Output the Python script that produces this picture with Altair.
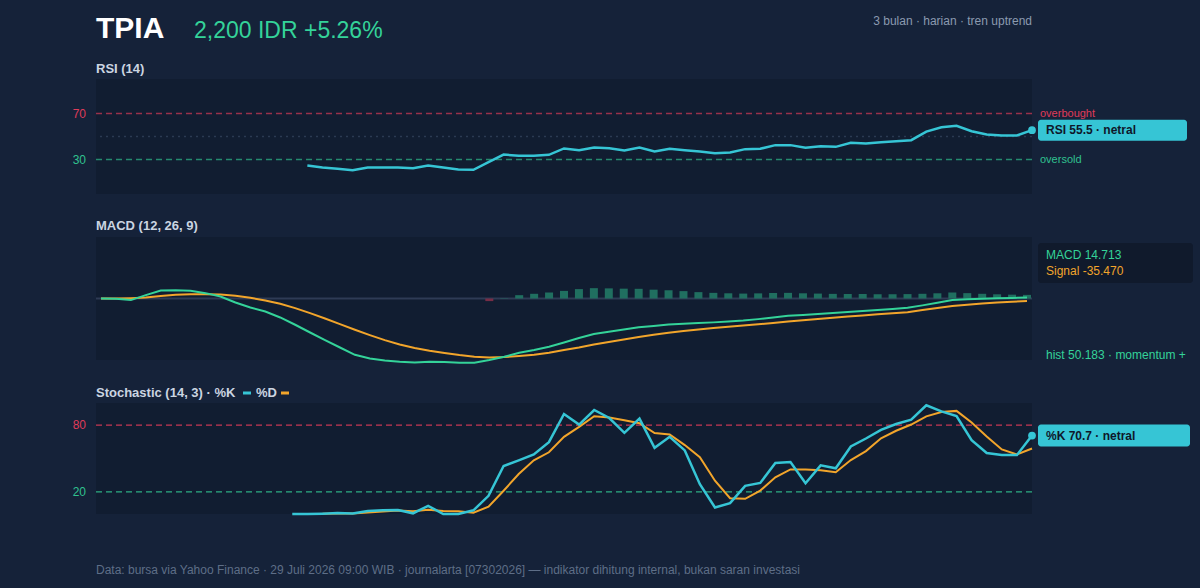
import altair as alt
import pandas as pd

# ---------------- data ----------------
N = 63
idx = list(range(N))

rsi = [None] * 14 + [
    24.8, 23.0, 21.9, 20.7, 23.0, 23.0, 23.0, 22.4, 24.8, 23.0, 21.3, 21.0,
    27.7, 34.3, 33.2, 33.2, 34.1, 39.6, 38.1, 40.4, 39.8, 37.8, 40.4, 37.0,
    39.3, 38.1, 37.0, 35.5, 36.1, 39.0, 39.3, 42.5, 42.5, 40.2, 41.6, 41.0,
    44.5, 43.9, 45.0, 45.9, 46.8, 54.3, 58.1, 59.3, 54.6, 51.7, 50.9, 50.9, 55.5]

macd = [0, -5, -22, 47, 111, 115, 106, 74, 28, -55,
        -124, -180, -262, -363, -470, -575, -677, -778, -829, -856,
        -874, -884, -874, -879, -888, -888, -851, -805, -750, -713,
        -667, -608, -547, -492, -460, -430, -398, -380, -360, -348,
        -340, -330, -318, -305, -285, -262, -240, -228, -214, -202,
        -188, -172, -160, -145, -128, -95, -60, -22, -12, -5,
        2, 8, 14.713]

signal = [0, 0, 5, 14, 33, 51, 60, 60, 55, 37,
          10, -27, -73, -133, -202, -276, -354, -432, -506, -575,
          -635, -685, -722, -754, -782, -805, -815, -810, -796, -778,
          -750, -713, -677, -635, -600, -566, -532, -502, -474, -450,
          -428, -408, -390, -373, -356, -338, -318, -300, -282, -266,
          -250, -234, -219, -204, -189, -160, -132, -105, -86, -70,
          -56, -45, -35.47]

hist = [None] * 26 + [
    -36, 5, 46, 65, 83, 105, 130, 143, 140, 136, 134, 122, 114, 102, 88, 78,
    72, 68, 71, 76, 78, 72, 68, 64, 62, 62, 59, 59, 61, 65, 72, 83, 74, 65,
    58, 53, 50.183]

pct_k = [None] * 13 + [
    0, 0, 0.3, 0.8, 0.5, 2.7, 3.3, 3.6, 0.6, 7.4, 0, 0, 3.3, 16.4, 43.2, 48.3,
    53.7, 64.7, 90.1, 80.6, 93.7, 86.5, 73.1, 85.9, 59.6, 69.5, 57.3, 26.9,
    5.9, 9.8, 25.4, 28, 45.9, 46.8, 27.7, 43.8, 41.2, 60.8, 68, 75.8, 81.1,
    85, 97.9, 92.5, 88.3, 66.5, 54.9, 53.1, 53.1, 70.7]

pct_d = [None] * 15 + [
    0.3, 0.4, 0.5, 1.3, 2.2, 3.2, 2.5, 3.9, 2.7, 2.5, 1.1, 6.6, 21.0, 36.0,
    48.4, 55.6, 69.5, 78.5, 88.1, 86.9, 84.4, 81.8, 72.9, 71.7, 62.1, 51.2,
    30.0, 14.2, 13.7, 21.1, 33.1, 40.2, 40.1, 39.4, 37.6, 48.6, 56.7, 68.2,
    75.0, 80.6, 88.0, 91.8, 92.9, 82.4, 69.9, 58.2, 53.7, 59.0]

rsi_levels = [70, 30]
stoch_levels = [80, 20]

df = pd.DataFrame({"i": idx, "rsi": rsi, "macd": macd, "signal": signal,
                   "hist": hist, "k": pct_k, "d": pct_d})
last = df.iloc[[-1]].copy()
one = pd.DataFrame({"z": [0]})

# ---------------- style ----------------
BG = "#152239"
PANEL = "#111d31"
CYAN = "#36c5d5"
GREEN = "#34d399"
ORANGE = "#f2a52b"
RED = "#f43f5e"
TITLE = "#cbd5e1"
MUTED = "#8b9ab0"
FOOT = "#5e6e87"
FONT = "Liberation Sans"

W = 936
H1, H2, H3 = 115, 123, 111
TOP = 79

xs = alt.Scale(domain=[0, N - 1], nice=False, zero=False)
ys100 = alt.Scale(domain=[0, 100], nice=False)
ysm = alt.Scale(domain=[-850, 850], nice=False)
X = alt.X("i:Q", scale=xs, axis=None)


def txt(s, x, y, color, size=12, weight="normal", align="left", baseline="middle"):
    return alt.Chart(one).mark_text(
        text=s, color=color, fontSize=size, fontWeight=weight, align=align,
        baseline=baseline, font=FONT
    ).encode(x=alt.value(x), y=alt.value(y))


def hrule(x1, x2, y, color, width=3):
    return alt.Chart(one).mark_rule(color=color, strokeWidth=width).encode(
        x=alt.value(x1), x2=alt.value(x2), y=alt.value(y))


def fmt(field, digits):
    return "replace(format(datum.%s, '.%df'), '\u2212', '-')" % (field, digits)


# ---------------- RSI panel ----------------
bounds = alt.Chart(one).mark_rect(opacity=0, fillOpacity=0, strokeOpacity=0).encode(
    x=alt.value(-96), x2=alt.value(1104), y=alt.value(-TOP), y2=alt.value(588 - TOP))

lv_rsi = pd.DataFrame({"v": rsi_levels, "lab": [str(v) for v in rsi_levels],
                       "c": [RED, GREEN], "side": ["overbought", "oversold"]})
mid = pd.DataFrame({"v": [50]})

rsi_dash = alt.Chart(lv_rsi).mark_rule(strokeDash=[6, 4], strokeWidth=1.3, opacity=0.6).encode(
    y=alt.Y("v:Q", scale=ys100, axis=None), color=alt.Color("c:N", scale=None))
rsi_mid = alt.Chart(mid).mark_rule(strokeDash=[2, 4], strokeWidth=1.5, color="#2b3a52").encode(
    y=alt.Y("v:Q", scale=ys100, axis=None))
rsi_ticks = alt.Chart(lv_rsi).mark_text(align="right", baseline="middle", fontSize=12, font=FONT, opacity=0.9).encode(
    y=alt.Y("v:Q", scale=ys100, axis=None), x=alt.value(-10), text="lab:N",
    color=alt.Color("c:N", scale=None))
rsi_side = alt.Chart(lv_rsi).mark_text(align="left", baseline="middle", fontSize=11, font=FONT, opacity=0.9).encode(
    y=alt.Y("v:Q", scale=ys100, axis=None), x=alt.value(944), text="side:N",
    color=alt.Color("c:N", scale=None))
rsi_line = alt.Chart(df).mark_line(color=CYAN, strokeWidth=2.5).encode(
    x=X, y=alt.Y("rsi:Q", scale=ys100, axis=None))
rsi_dot = alt.Chart(last).mark_circle(color=CYAN, size=60, opacity=1).encode(
    x=X, y=alt.Y("rsi:Q", scale=ys100, axis=None))
rsi_box = alt.Chart(last).mark_rect(color=CYAN, cornerRadius=3, yOffset=-10.5, y2Offset=10.5).encode(
    x=alt.value(942), x2=alt.value(1091), y=alt.Y("rsi:Q", scale=ys100, axis=None), y2="rsi")
rsi_box_t = alt.Chart(last).transform_calculate(
    lab="'RSI ' + " + fmt("rsi", 1) + " + ' · netral'"
).mark_text(align="left", baseline="middle", fontSize=12, fontWeight="bold", color="#0f172a", font=FONT).encode(
    x=alt.value(950), y=alt.Y("rsi:Q", scale=ys100, axis=None), text="lab:N")

p1 = alt.layer(
    bounds, rsi_mid, rsi_dash, rsi_ticks, rsi_side, rsi_line, rsi_dot, rsi_box, rsi_box_t,
    txt("TPIA", 0, 38 - TOP, "#ffffff", 30, "bold", baseline="alphabetic"),
    txt("2,200 IDR +5.26%", 98, 38 - TOP, GREEN, 23, baseline="alphabetic"),
    txt("3 bulan · harian · tren uptrend", W, 21 - TOP, MUTED, 12, align="right"),
    txt("RSI (14)", 0, -10, TITLE, 13, "bold"),
).properties(width=W, height=H1)

# ---------------- MACD panel ----------------
zero = pd.DataFrame({"v": [0]})
m_zero = alt.Chart(zero).mark_rule(color="#2e3b55", strokeWidth=2).encode(
    y=alt.Y("v:Q", scale=ysm, axis=None))
m_bars = alt.Chart(df).transform_filter("isValid(datum.hist)").mark_bar(size=8).encode(
    x=X, y=alt.Y("hist:Q", scale=ysm, axis=None), y2=alt.datum(0),
    color=alt.condition("datum.hist > 0", alt.value("#206f60"), alt.value("#772d46")))
m_sig = alt.Chart(df).mark_line(color=ORANGE, strokeWidth=2).encode(
    x=X, y=alt.Y("signal:Q", scale=ysm, axis=None))
m_line = alt.Chart(df).mark_line(color=GREEN, strokeWidth=2).encode(
    x=X, y=alt.Y("macd:Q", scale=ysm, axis=None))
m_box = alt.Chart(one).mark_rect(color="#101a2c", cornerRadius=3).encode(
    x=alt.value(942), x2=alt.value(1097), y=alt.value(6), y2=alt.value(46))
m_t1 = alt.Chart(last).transform_calculate(
    lab="'MACD ' + " + fmt("macd", 3)).mark_text(
    align="left", baseline="middle", fontSize=12, color=GREEN, font=FONT).encode(
    x=alt.value(950), y=alt.value(18), text="lab:N")
m_t2 = alt.Chart(last).transform_calculate(
    lab="'Signal ' + " + fmt("signal", 3)).mark_text(
    align="left", baseline="middle", fontSize=12, color=ORANGE, font=FONT).encode(
    x=alt.value(950), y=alt.value(34), text="lab:N")
m_t3 = alt.Chart(last).transform_calculate(
    lab="'hist ' + " + fmt("hist", 3) + " + ' · momentum +'").mark_text(
    align="left", baseline="middle", fontSize=12, color=GREEN, font=FONT).encode(
    x=alt.value(950), y=alt.value(118), text="lab:N")

p2 = alt.layer(
    m_zero, m_bars, m_sig, m_line, m_box, m_t1, m_t2, m_t3,
    txt("MACD (12, 26, 9)", 0, -11, TITLE, 13, "bold"),
).properties(width=W, height=H2)

# ---------------- Stochastic panel ----------------
lv_st = pd.DataFrame({"v": stoch_levels, "lab": [str(v) for v in stoch_levels],
                      "c": [RED, GREEN]})
s_dash = alt.Chart(lv_st).mark_rule(strokeDash=[6, 4], strokeWidth=1.3, opacity=0.8).encode(
    y=alt.Y("v:Q", scale=ys100, axis=None), color=alt.Color("c:N", scale=None))
s_ticks = alt.Chart(lv_st).mark_text(align="right", baseline="middle", fontSize=12, font=FONT, opacity=0.9).encode(
    y=alt.Y("v:Q", scale=ys100, axis=None), x=alt.value(-10), text="lab:N",
    color=alt.Color("c:N", scale=None))
s_d = alt.Chart(df).mark_line(color=ORANGE, strokeWidth=2).encode(
    x=X, y=alt.Y("d:Q", scale=ys100, axis=None))
s_k = alt.Chart(df).mark_line(color=CYAN, strokeWidth=2.5).encode(
    x=X, y=alt.Y("k:Q", scale=ys100, axis=None))
s_dot = alt.Chart(last).mark_circle(color=CYAN, size=60, opacity=1).encode(
    x=X, y=alt.Y("k:Q", scale=ys100, axis=None))
s_box = alt.Chart(last).mark_rect(color=CYAN, cornerRadius=3, yOffset=-11, y2Offset=11).encode(
    x=alt.value(942), x2=alt.value(1094), y=alt.Y("k:Q", scale=ys100, axis=None), y2="k")
s_box_t = alt.Chart(last).transform_calculate(
    lab="'%K ' + " + fmt("k", 1) + " + ' · netral'"
).mark_text(align="left", baseline="middle", fontSize=12, fontWeight="bold", color="#0f172a", font=FONT).encode(
    x=alt.value(950), y=alt.Y("k:Q", scale=ys100, axis=None), text="lab:N")

p3 = alt.layer(
    s_dash, s_ticks, s_d, s_k, s_dot, s_box, s_box_t,
    txt("Stochastic (14, 3) · %K", 0, -10, TITLE, 13, "bold"),
    hrule(147, 155, -10, CYAN),
    txt("%D", 160, -10, TITLE, 13, "bold"),
    hrule(185, 193, -10, ORANGE),
    txt("Data: bursa via Yahoo Finance · 29 Juli 2026 09:00 WIB · journalarta [07302026] — "
        "indikator dihitung internal, bukan saran investasi", 0, 167, FOOT, 12),
).properties(width=W, height=H3)

chart = alt.vconcat(p1, p2, p3, spacing=43, bounds="flush").properties(
    padding=0, background=BG
).configure(font=FONT).configure_view(fill=PANEL, stroke="transparent", strokeWidth=0)

chart.save("out.html", embed_options={"renderer": "svg", "actions": False})
